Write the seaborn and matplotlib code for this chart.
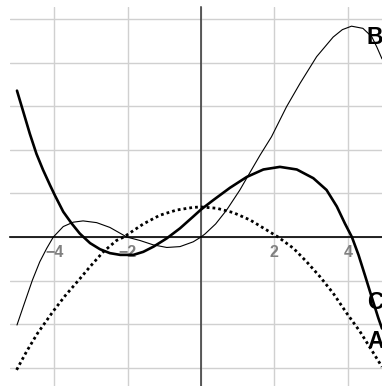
import numpy as np
import pandas as pd
import matplotlib
matplotlib.use("Agg")
import matplotlib.pyplot as plt
import seaborn as sns

sns.set_theme(style="white")
plt.rcParams['font.family'] = ['Liberation Sans', 'DejaVu Sans']

# values
a_x = [-5.02, -4.75, -4.45, -4.02, -3.70, -3.34, -3.02, -2.66, -2.30, -2.10,
       -1.57, -1.12, -0.66, -0.21, 0.0, 0.43, 0.88, 1.34, 1.79, 2.10, 2.52,
       2.88, 3.24, 3.60, 3.97, 4.33, 4.65, 4.93]
a_y = [-3.05, -2.63, -2.21, -1.70, -1.35, -1.00, -0.68, -0.34, -0.08, 0.0,
       0.30, 0.50, 0.62, 0.68, 0.69, 0.66, 0.56, 0.39, 0.16, 0.0, -0.26,
       -0.57, -0.91, -1.29, -1.75, -2.17, -2.60, -2.98]

b_x = [-5.01, -4.84, -4.59, -4.39, -4.20, -4.02, -3.75, -3.48, -3.21, -2.84,
       -2.48, -2.02, -1.66, -1.30, -0.93, -0.57, -0.21, 0.0, 0.11, 0.40,
       0.70, 1.06, 1.32, 1.61, 1.92, 2.33, 2.70, 3.15, 3.60, 3.85, 4.10,
       4.41, 4.65, 4.79, 4.93]
b_y = [-2.02, -1.60, -0.99, -0.57, -0.26, 0.0, 0.24, 0.34, 0.37, 0.33,
       0.22, 0.0, -0.08, -0.18, -0.24, -0.22, -0.11, 0.0, 0.07, 0.30,
       0.62, 1.08, 1.46, 1.88, 2.30, 2.99, 3.53, 4.14, 4.59, 4.76, 4.84,
       4.79, 4.60, 4.36, 4.09]

c_x = [-5.01, -4.84, -4.66, -4.48, -4.30, -4.11, -3.98, -3.75, -3.52, -3.30,
       -3.02, -2.75, -2.48, -2.20, -1.84, -1.57, -1.29, -0.93, -0.57, -0.21,
       0.0, 0.34, 0.79, 1.25, 1.70, 2.15, 2.61, 3.06, 3.42, 3.70, 3.92,
       4.11, 4.29, 4.47, 4.65, 4.83, 4.93]
c_y = [3.36, 2.88, 2.37, 1.91, 1.54, 1.19, 0.96, 0.58, 0.31, 0.08,
       -0.14, -0.28, -0.37, -0.41, -0.41, -0.34, -0.22, -0.03, 0.20, 0.47,
       0.63, 0.85, 1.13, 1.38, 1.55, 1.61, 1.55, 1.35, 1.08, 0.70, 0.31,
       0.0, -0.41, -0.89, -1.38, -1.86, -2.10]

x_ticks = [-4, -2, 0, 2, 4]
x_tick_labels = ['\u22124', '\u22122', '', '2', '4']
y_grid = [-3, -2, -1, 0, 1, 2, 3, 4, 5]

curve_labels = ['A', 'B', 'C']
label_x = [4.52, 4.52, 4.52]
label_y = [-2.39, 4.59, -1.51]

fig = plt.figure(figsize=(3.82, 3.86), dpi=100)
ax = fig.add_axes([10 / 382, 0, 372 / 382, 379 / 386])

df_a = pd.DataFrame({'x': a_x, 'y': a_y})
df_b = pd.DataFrame({'x': b_x, 'y': b_y})
df_c = pd.DataFrame({'x': c_x, 'y': c_y})

sns.lineplot(data=df_a, x='x', y='y', ax=ax, color='black', lw=2.0,
             sort=False, estimator=None, zorder=3)
ax.lines[-1].set_dashes([1, 1.1])
sns.lineplot(data=df_b, x='x', y='y', ax=ax, color='black', lw=0.8,
             sort=False, estimator=None, zorder=3)
sns.lineplot(data=df_c, x='x', y='y', ax=ax, color='black', lw=1.9,
             sort=False, estimator=None, zorder=3)
for ln in ax.lines:
    ln.set_solid_joinstyle('round')

for lab, lx, ly in zip(curve_labels, label_x, label_y):
    ax.text(lx, ly, lab, fontsize=16.5, fontweight='bold', color='black',
            ha='left', va='center', zorder=4, clip_on=False)

ax.set_xlim(-5.20, 4.93)
ax.set_ylim(-3.42, 5.28)
ax.set_xticks(x_ticks)
ax.set_xticklabels(x_tick_labels)
ax.set_yticks(y_grid)
ax.set_yticklabels([])
ax.grid(True, color='#d0d0d0', lw=1.0)
ax.set_xlabel('')
ax.set_ylabel('')

ax.spines['left'].set_position(('data', 0))
ax.spines['bottom'].set_position(('data', 0))
ax.spines['right'].set_visible(False)
ax.spines['top'].set_visible(False)
ax.spines['left'].set_color('#333333')
ax.spines['bottom'].set_color('black')
ax.spines['left'].set_linewidth(1.1)
ax.spines['bottom'].set_linewidth(1.2)
ax.tick_params(axis='x', length=0, pad=6, labelsize=11.5, labelcolor='#808080')
ax.tick_params(axis='y', length=0)
for t in ax.get_xticklabels():
    t.set_fontweight('bold')

fig.savefig('out.png', dpi=100)
